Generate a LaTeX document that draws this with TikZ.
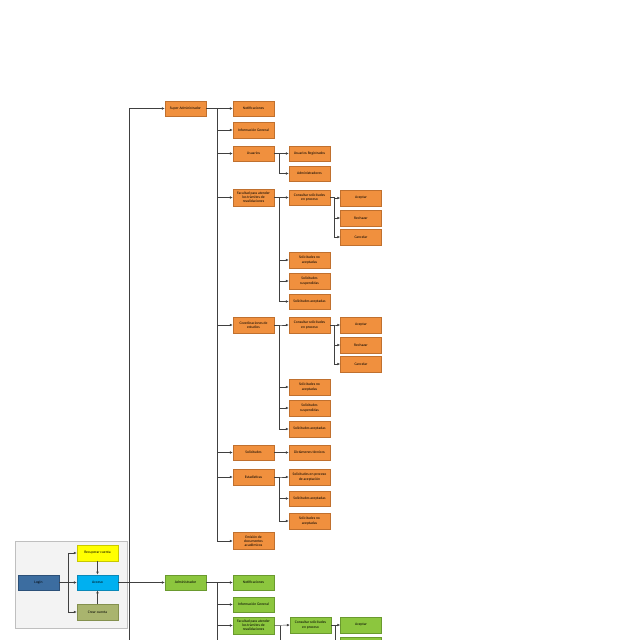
\documentclass[tikz,border=0pt]{standalone}
\usepackage{fontspec}
\setmainfont{Carlito}
\usetikzlibrary{arrows.meta}
\definecolor{orgF}{HTML}{F0903E}
\definecolor{orgB}{HTML}{C0702E}
\definecolor{grnF}{HTML}{8CC63E}
\definecolor{grnB}{HTML}{6A9A2E}
\definecolor{logF}{HTML}{3C6DA0}
\definecolor{logB}{HTML}{2C5078}
\definecolor{yelF}{HTML}{FFFF00}
\definecolor{yelB}{HTML}{C8C800}
\definecolor{cyaF}{HTML}{00B0F0}
\definecolor{cyaB}{HTML}{0A88B8}
\definecolor{oliF}{HTML}{A9B46E}
\definecolor{oliB}{HTML}{84904E}
\definecolor{panF}{HTML}{F3F3F3}
\definecolor{panB}{HTML}{BFBFBF}
\definecolor{lineC}{HTML}{404040}
\begin{document}
\begin{tikzpicture}[x=1pt,y=-1pt,
  basebox/.style={rectangle, minimum width=41pt, minimum height=15.5pt, inner sep=0.5pt,
    align=center, font=\fontsize{3.7}{4.1}\selectfont, line width=0.4pt},
  ob/.style={basebox, draw=orgB, fill=orgF},
  gb/.style={basebox, draw=grnB, fill=grnF},
  tall/.style={minimum height=17pt},
  ln/.style={draw=lineC, line width=0.45pt},
  arr/.style={ln, -{Latex[length=3pt,width=2.6pt]}}]
\useasboundingbox (0,0) rectangle (640,640);
\clip (0,0) rectangle (640,640);
\fill[white] (0,0) rectangle (640,640);
% bus coordinates
\coordinate (bA) at (129,0);
\coordinate (bB) at (217,0);
\coordinate (bC) at (279,0);
\coordinate (bD) at (334,0);
\coordinate (bL) at (68,0);
\coordinate (bot) at (0,660);
% login panel
\node[rectangle, draw=panB, fill=panF, minimum width=112pt, minimum height=87pt, line width=0.4pt] (pn) at (71,584.5) {};
\node[basebox, draw=logB, fill=logF] (login) at (38.5,582.5) {Login};
\node[basebox, draw=yelB, fill=yelF] (rc) at (97.5,553) {Recuperar cuenta};
\node[basebox, draw=cyaB, fill=cyaF] (acc) at (97.5,582.5) {Acceso};
\node[basebox, draw=oliB, fill=oliF] (cc) at (97.5,612) {Crear cuenta};
% orange tree
\node[ob] (sa) at (185.5,108.5) {Super Administrador};
\node[ob] (n1) at (253.5,108.5) {Notificaciones};
\node[ob] (ig) at (253.5,130) {Información General};
\node[ob] (us) at (253.5,153.5) {Usuarios};
\node[ob,tall] (fa) at (253.5,197.5) {Facultad para atender\\los trámites de\\revalidaciones};
\node[ob] (co) at (253.5,325) {Coordinaciones de\\estudios};
\node[ob] (so) at (253.5,452.5) {Solicitudes};
\node[ob] (es) at (253.5,477) {Estadísticas};
\node[ob,tall] (em) at (253.5,541) {Emisión de\\documentos\\académicos};
\node[ob] (ur) at (309.5,153.5) {Usuarios Registrados};
\node[ob] (ad) at (309.5,173.5) {Administradores};
\node[ob] (cs1) at (309.5,197.5) {Consultar solicitudes\\en proceso};
\node[ob] (sn1) at (309.5,260) {Solicitudes no\\aceptadas};
\node[ob] (ss1) at (309.5,281) {Solicitudes\\suspendidas};
\node[ob] (sac1) at (309.5,301.5) {Solicitudes aceptadas};
\node[ob] (cs2) at (309.5,325) {Consultar solicitudes\\en proceso};
\node[ob] (sn2) at (309.5,387) {Solicitudes no\\aceptadas};
\node[ob] (ss2) at (309.5,408) {Solicitudes\\suspendidas};
\node[ob] (sac2) at (309.5,429) {Solicitudes aceptadas};
\node[ob] (dt) at (309.5,452.5) {Dictámenes técnicos};
\node[ob] (sp) at (309.5,477) {Solicitudes en proceso\\de aceptación};
\node[ob] (sac3) at (309.5,498.5) {Solicitudes aceptadas};
\node[ob] (sn3) at (309.5,521) {Solicitudes no\\aceptadas};
\node[ob] (ac1) at (361,198) {Aceptar};
\node[ob] (re1) at (361,218) {Rechazar};
\node[ob] (ca1) at (361,237) {Cancelar};
\node[ob] (ac2) at (361,325) {Aceptar};
\node[ob] (re2) at (361,345) {Rechazar};
\node[ob] (ca2) at (361,364) {Cancelar};
% green tree
\node[gb] (adm) at (185.5,582.5) {Administrador};
\node[gb] (gn1) at (253.5,582.5) {Notificaciones};
\node[gb] (gig) at (253.5,604.5) {Información General};
\node[gb,tall] (gfa) at (253.5,625.5) {Facultad para atender\\los trámites de\\revalidaciones};
\node[gb] (gcs) at (310.5,625) {Consultar solicitudes\\en proceso};
\node[gb] (gac) at (361,625) {Aceptar};
\node[gb] (gre) at (361,645) {};
% login connectors
\draw[arr] (login.east) -- (login.east -| bL) |- (rc.west);
\draw[arr] (login.east) -- (acc.west);
\draw[arr] (login.east -| bL) |- (cc.west);
\draw[arr] (rc.south) -- (acc.north);
\draw[arr] (cc.north) -- (acc.south);
% main connectors
\draw[arr] (acc.east) -- (adm.west);
\draw[arr] (acc.east -| bA) |- (sa.west);
\draw[ln] (acc.east -| bA) -- (bA |- bot);
% orange edges
\foreach \c in {n1,ig,us,fa,co,so,es,em}
  \draw[arr] (sa.east) -- (sa.east -| bB) |- (\c.west);
\foreach \c in {ur,ad}
  \draw[arr] (us.east) -- (us.east -| bC) |- (\c.west);
\foreach \c in {cs1,sn1,ss1,sac1}
  \draw[arr] (fa.east) -- (fa.east -| bC) |- (\c.west);
\foreach \c in {ac1,re1,ca1}
  \draw[arr] (cs1.east) -- (cs1.east -| bD) |- (\c.west);
\foreach \c in {cs2,sn2,ss2,sac2}
  \draw[arr] (co.east) -- (co.east -| bC) |- (\c.west);
\foreach \c in {ac2,re2,ca2}
  \draw[arr] (cs2.east) -- (cs2.east -| bD) |- (\c.west);
\draw[arr] (so.east) -- (dt.west);
\foreach \c in {sp,sac3,sn3}
  \draw[arr] (es.east) -- (es.east -| bC) |- (\c.west);
% green edges
\foreach \c in {gn1,gig,gfa}
  \draw[arr] (adm.east) -- (adm.east -| bB) |- (\c.west);
\draw[ln] (adm.east -| bB) -- (bB |- bot);
\draw[arr] (gfa.east) -- (gcs.west);
\draw[ln] ([xshift=6pt]gfa.east) -- ([xshift=6pt]gfa.east |- bot);
\draw[arr] (gcs.east) -- (gac.west);
\draw[arr] ([xshift=4pt]gcs.east) |- (gre.west);
\end{tikzpicture}
\end{document}
